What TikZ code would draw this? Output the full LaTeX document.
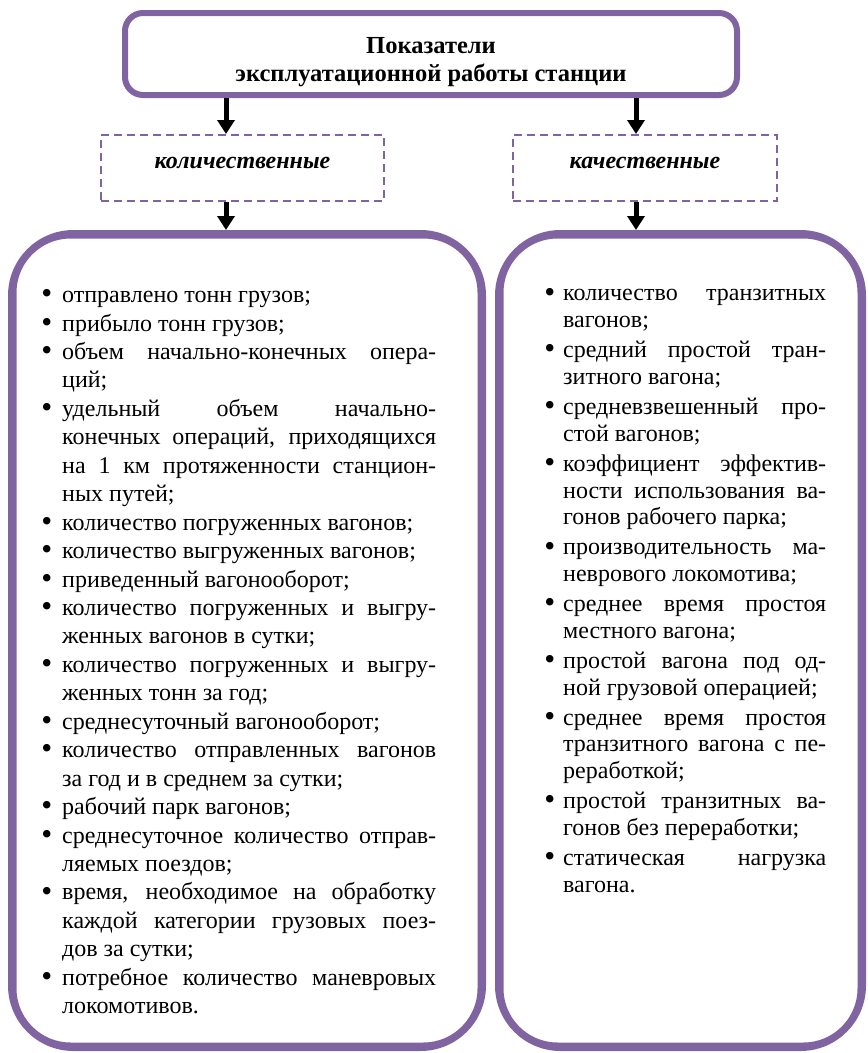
\documentclass[tikz,border=0pt]{standalone}
\usepackage{fontspec}
\setmainfont{Liberation Serif}
\usepackage{graphicx}
\usepackage{enumitem}
\usetikzlibrary{arrows.meta,positioning}
\definecolor{lilac}{RGB}{128,100,162}
\newcommand{\dotmark}{\raisebox{-1.2pt}{\scalebox{1.3}{\textbullet}}}

\tikzset{
  titlebox/.style={draw=lilac, line width=6pt, rounded corners=18pt,
    minimum width=612pt, minimum height=82pt, align=center,
    font=\fontsize{24.5}{28}\selectfont\bfseries},
  groupbox/.style={draw=lilac, line width=2pt, dash pattern=on 8pt off 5pt,
    minimum height=66pt, font=\fontsize{24}{28}\selectfont\bfseries\itshape},
  bigbox/.style={draw=lilac, line width=7pt, rounded corners=62pt, inner sep=0pt},
  innerline/.style={draw=lilac, line width=2pt, rounded corners=55pt},
  listtext/.style={anchor=north west, inner sep=0pt, align=justify},
  down/.style={-{Triangle[width=17pt,length=14pt]}, line width=5pt}
}

\begin{document}
\begin{tikzpicture}[x=1pt,y=1pt]
  \useasboundingbox (0,0) rectangle (868,-1053);

  % header
  \node[titlebox] (title) at (431,-54) {\raisebox{-14pt}[0pt][0pt]{\parbox{600pt}{\centering Показатели\\эксплуатационной работы станции}}};

  % two groups
  \node[groupbox, minimum width=283pt] (qty) at (242.5,-168) {\raisebox{-0.5pt}[0pt][0pt]{количественные}};
  \node[groupbox, minimum width=264pt] (qual) at (645,-168) {\raisebox{-0.5pt}[0pt][0pt]{качественные}};

  % big frames
  \node[bigbox, minimum width=471pt, minimum height=814pt] (qtyBox) at (247,-640.5) {};
  \node[bigbox, minimum width=364pt, minimum height=814pt] (qualBox) at (680.5,-640.5) {};
  \draw[innerline] ([shift={(7.5,-7.5)}]qtyBox.north west) rectangle ([shift={(-7.5,7.5)}]qtyBox.south east);
  \draw[innerline] ([shift={(7.5,-7.5)}]qualBox.north west) rectangle ([shift={(-7.5,7.5)}]qualBox.south east);

  % arrows
  \coordinate (colL) at (226,0);
  \coordinate (colR) at (636,0);
  \draw[down] (title.south -| colL) -- (qty.north -| colL);
  \draw[down] (title.south -| colR) -- (qual.north -| colR);
  \draw[down] (qty.south -| colL) -- (qtyBox.north -| colL);
  \draw[down] (qual.south -| colR) -- (qualBox.north -| colR);

  % lists
  \node[listtext, text width=394pt, font=\fontsize{24}{28.44}\selectfont] (qtyList) at (42,-274) {%
    \begin{itemize}[leftmargin=20pt, labelsep=10pt, label=\dotmark, topsep=0pt, partopsep=0pt, itemsep=0pt, parsep=0pt]
      \item отправлено тонн грузов;
      \item прибыло тонн грузов;
      \item объем начально-конечных опера-\linebreak ций;
      \item удельный объем начально-\linebreak конечных операций, приходящихся\linebreak на 1 км протяженности станцион-\linebreak ных путей;
      \item количество погруженных вагонов;
      \item количество выгруженных вагонов;
      \item приведенный вагонооборот;
      \item количество погруженных и выгру-\linebreak женных вагонов в сутки;
      \item количество погруженных и выгру-\linebreak женных тонн за год;
      \item среднесуточный вагонооборот;
      \item количество отправленных вагонов\linebreak за год и в среднем за сутки;
      \item рабочий парк вагонов;
      \item среднесуточное количество отправ-\linebreak ляемых поездов;
      \item время, необходимое на обработку\linebreak каждой категории грузовых поез-\linebreak дов за сутки;
      \item потребное количество маневровых\linebreak локомотивов.
    \end{itemize}};
  \node[listtext, text width=281pt, font=\fontsize{24}{26.7}\selectfont] (qualList) at (545,-274) {%
    \begin{itemize}[leftmargin=18pt, labelsep=8pt, label=\dotmark, topsep=0pt, partopsep=0pt, itemsep=3.4pt, parsep=0pt]
      \item количество транзитных\linebreak вагонов;
      \item средний простой тран-\linebreak зитного вагона;
      \item средневзвешенный про-\linebreak стой вагонов;
      \item коэффициент эффектив-\linebreak ности использования ва-\linebreak гонов рабочего парка;
      \item производительность ма-\linebreak неврового локомотива;
      \item среднее время простоя\linebreak местного вагона;
      \item простой вагона под од-\linebreak ной грузовой операцией;
      \item среднее время простоя\linebreak транзитного вагона с пе-\linebreak реработкой;
      \item простой транзитных ва-\linebreak гонов без переработки;
      \item статическая нагрузка\linebreak вагона.
    \end{itemize}};
\end{tikzpicture}
\end{document}
